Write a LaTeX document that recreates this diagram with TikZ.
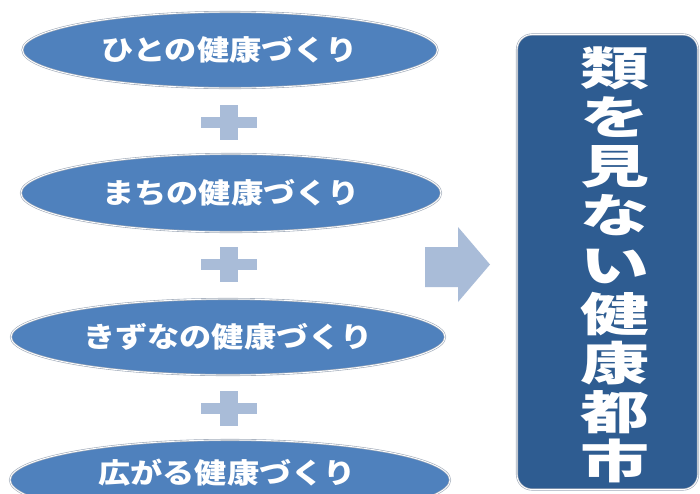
\documentclass[tikz,border=0pt]{standalone}
\usepackage{fontspec}
\newfontfamily\cjkell[FakeStretch=1.15]{Noto Sans CJK JP}
\newfontfamily\cjkbox[FakeStretch=1.5]{Noto Sans CJK JP}
\definecolor{ellblue}{RGB}{79,129,189}
\definecolor{boxblue}{RGB}{46,92,145}
\definecolor{pluscol}{RGB}{169,188,216}
\definecolor{rimgray}{RGB}{160,170,185}
\tikzset{
  ell/.style={ellipse, fill=ellblue, draw=rimgray, double=white, double distance=0.9pt, line width=0.6pt,
              inner sep=0pt},
  bigbox/.style={rectangle, rounded corners=15pt, fill=boxblue, draw=rimgray, double=white,
              double distance=0.9pt, line width=0.6pt, inner sep=0pt},
  boxtext/.style={text=white, align=center, font=\cjkbox\bfseries\fontsize{46}{49.2}\selectfont},
  lbl/.style={text=white, font=\cjkell\bfseries\fontsize{28}{30}\selectfont}
}
\usetikzlibrary{shapes.geometric}
\begin{document}
\begin{tikzpicture}[x=1pt,y=-1pt]
\useasboundingbox (0,0) rectangle (700,493);
\clip (0,0) rectangle (700,493);
\fill[white] (0,0) rectangle (700,493);
% ellipses
\node[ell, minimum width=415pt, minimum height=76pt] (e1) at (230,50) {};
\node[ell, minimum width=420pt, minimum height=78pt] (e2) at (231,193) {};
\node[ell, minimum width=434pt, minimum height=76pt] (e3) at (228,337) {};
\node[ell, minimum width=440pt, minimum height=80pt] (e4) at (230,480) {};
\node[lbl] (t1) at (e1.center) {ひとの健康づくり};
\node[lbl] (t2) at (e2.center) {まちの健康づくり};
\node[lbl] (t3) at (e3.center) {きずなの健康づくり};
\node[lbl] (t4) at (227,473) {広がる健康づくり};
% plus signs
\foreach \n/\y in {p1/122, p2/264, p3/408}{
  \coordinate (\n) at (229,\y);
  \fill[pluscol] ([shift={(-28,-5.5)}]\n) rectangle ([shift={(28,5.5)}]\n);
  \fill[pluscol] ([shift={(-9,-17.5)}]\n) rectangle ([shift={(9,17.5)}]\n);
}
% arrow
\fill[pluscol] (425,247) -- (458,247) -- (458,227) -- (490,264.5) -- (458,302) -- (458,287) -- (425,287) -- cycle;
% result box
\node[bigbox, minimum width=181pt, minimum height=455pt] (box) at (607.5,262) {};
\node[boxtext] (bt) at (615,265) {類\\を\\見\\な\\い\\健\\康\\都\\市};
\end{tikzpicture}
\end{document}
